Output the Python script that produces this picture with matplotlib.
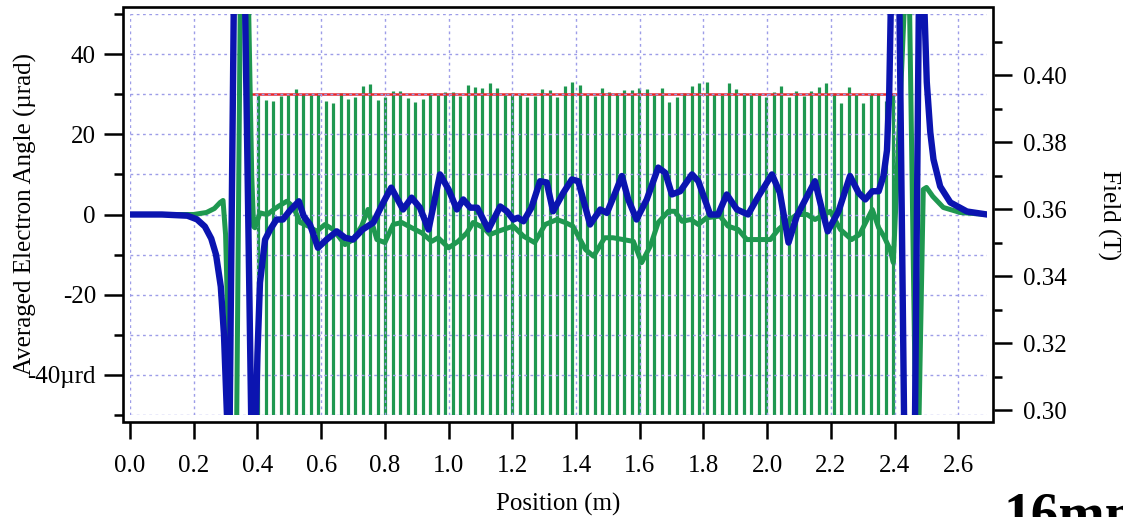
import numpy as np
import matplotlib
matplotlib.use('Agg')
import matplotlib.pyplot as plt
from matplotlib.patches import Rectangle
from matplotlib.ticker import FixedLocator

plt.rcParams['font.family'] = ['Liberation Serif', 'DejaVu Serif']

# ---- data ----
# averaged electron angle, blue trace (µrad); values beyond +-50 run off the plot
blue_x = [0.00, 0.10, 0.18, 0.21, 0.235, 0.255, 0.27, 0.285, 0.295, 0.302,
          0.308, 0.312, 0.328, 0.358, 0.384, 0.392, 0.40, 0.408, 0.424, 0.44,
          0.46, 0.48, 0.50, 0.53, 0.545, 0.565, 0.59, 0.617, 0.649, 0.675,
          0.70, 0.73, 0.764, 0.795, 0.82, 0.857, 0.884, 0.91, 0.937, 0.973,
          1.00, 1.026, 1.046, 1.068, 1.09, 1.125, 1.162, 1.183, 1.203, 1.218,
          1.235, 1.26, 1.287, 1.308, 1.328, 1.36, 1.387, 1.407, 1.444, 1.476,
          1.497, 1.523, 1.544, 1.564, 1.59, 1.622, 1.658, 1.68, 1.701, 1.727,
          1.764, 1.784, 1.821, 1.846, 1.873, 1.905, 1.94, 1.973, 2.015, 2.04,
          2.067, 2.093, 2.12, 2.15, 2.172, 2.19, 2.224, 2.26, 2.287, 2.308,
          2.33, 2.35, 2.365, 2.376, 2.383, 2.39, 2.414, 2.431, 2.463, 2.477,
          2.49, 2.501, 2.512, 2.522, 2.543, 2.575, 2.627, 2.69]
blue_y = [0, 0, -0.3, -1.2, -3, -6, -10, -18, -30, -45,
          -58, -58, 70, 70, -70, -62, -35, -17, -6.25, -3.75,
          -1.25, -1.25, 0.8, 3.3, -0.4, -2.5, -8.3, -6.25, -4.2, -5.8,
          -6.25, -3.75, -2, 3, 6.7, 1.25, 4.2, 1.7, -3.75, 10,
          6.25, 1.25, 3.75, 1.7, 1.7, -3.75, 2, 0.8, -1.25, -0.8,
          -1.7, 1.7, 8.3, 8, 0.8, 5.4, 8.75, 8.3, -2.5, 1.25,
          0.4, 5.4, 9.6, 3.75, -1.25, 3.75, 11.7, 10.4, 5, 5.8,
          10, 8.3, 0, 0, 5, 1.25, 0, 4.6, 10, 5.4,
          -7, -0.4, 3.75, 8.3, 1.25, -4.2, 0.8, 9.6, 5.4, 3.75,
          5.8, 5.8, 9.6, 16, 30, 60, 60, -60, -60, 60,
          60, 33, 20.5, 13.75, 7, 3, 0.75, 0]

# averaged electron angle, green trace (µrad)
green_x = [0.00, 0.15, 0.20, 0.24, 0.265, 0.283, 0.292, 0.300, 0.310, 0.316,
           0.334, 0.348, 0.368, 0.382, 0.388, 0.392, 0.408, 0.430, 0.465,
           0.492, 0.512, 0.534, 0.560, 0.586, 0.612, 0.638, 0.675, 0.700, 0.727,
           0.747, 0.775, 0.800, 0.826, 0.853, 0.884, 0.916, 0.947, 0.967, 1.000,
           1.030, 1.057, 1.077, 1.110, 1.130, 1.155, 1.203, 1.235, 1.270, 1.303,
           1.340, 1.366, 1.390, 1.430, 1.455, 1.490, 1.516, 1.548, 1.580, 1.606,
           1.633, 1.658, 1.690, 1.710, 1.733, 1.760, 1.784, 1.810, 1.852, 1.877,
           1.909, 1.936, 1.968, 2.010, 2.035, 2.060, 2.093, 2.125, 2.150, 2.170,
           2.198, 2.230, 2.265, 2.290, 2.330, 2.350, 2.366, 2.386, 2.396, 2.436,
           2.445, 2.468, 2.474, 2.490, 2.500, 2.520, 2.553, 2.606, 2.690]
green_y = [0, 0, 0, 0.5, 1.5, 3, 3.5, -5, -35, -60,
           -60, 70, 70, 10, -3, -3.3, 0.4, 0, 2,
           3.3, 2, -2, -2.9, -4.2, -2.5, -3.75, -7.5, -6.25, -2.9,
           1.25, -6.25, -7, -2.5, -2, -3.3, -4.6, -6.7, -5.8, -8.3,
           -6.7, -4.6, -2, -3.3, -5, -4.2, -2.9, -5.4, -7, -2.5,
           -1.25, -2, -2.9, -8.75, -10.4, -5.8, -5.8, -6.25, -6.7, -12,
           -7.9, -2, 0.8, 0.8, -1.7, -1.25, -2.5, -0.8, -0.4, -2.9,
           -3.75, -6.25, -6.25, -6.25, -3.75, -2, 0, 0, -1.25, -0.4,
           0.8, -3.75, -6.25, -5, 1.25, -3.3, -5.4, -8.75, -12, 62,
           62, -62, -62, 6.25, 6.75, 4.5, 1.75, 0.5, 0]

# peak field of each pole (T)
pole_field = [0.3940, 0.3925, 0.3923, 0.3936, 0.3940, 0.3958, 0.3943, 0.3940, 0.3947, 0.3923,
              0.3917, 0.3947, 0.3928, 0.3934, 0.3967, 0.3973, 0.3925, 0.3934, 0.3952, 0.3953,
              0.3930, 0.3920, 0.3928, 0.3947, 0.3940, 0.3950, 0.3950, 0.3938, 0.3970, 0.3963,
              0.3960, 0.3975, 0.3960, 0.3940, 0.3947, 0.3940, 0.3935, 0.3936, 0.3957, 0.3955,
              0.3935, 0.3967, 0.3980, 0.3970, 0.3943, 0.3936, 0.3962, 0.3950, 0.3945, 0.3955,
              0.3955, 0.3960, 0.3957, 0.3940, 0.3960, 0.3920, 0.3934, 0.3945, 0.3967, 0.3976,
              0.3980, 0.3943, 0.3940, 0.3975, 0.3957, 0.3947, 0.3940, 0.3940, 0.3935, 0.3950,
              0.3967, 0.3935, 0.3952, 0.3936, 0.3952, 0.3965, 0.3976, 0.3945, 0.3917, 0.3965,
              0.3943, 0.3915, 0.3943, 0.3943, 0.3923, 0.3940]
pole_first, pole_last = 0.403, 2.396

# nominal field level (red line)
nominal_field = 0.3943
nominal_range = (0.377, 2.407)

x_ticks = [0.0, 0.2, 0.4, 0.6, 0.8, 1.0, 1.2, 1.4, 1.6, 1.8, 2.0, 2.2, 2.4, 2.6]
angle_ticks = [-40, -20, 0, 20, 40]
angle_labels = ['-40µrd', '-20', '0', '20', '40']
angle_minor = [-50, -30, -10, 10, 30, 50]
field_ticks = [0.30, 0.32, 0.34, 0.36, 0.38, 0.40]
field_minor = [0.31, 0.33, 0.35, 0.37, 0.39, 0.41]

BLUE = '#0b14b0'
GREEN = '#1f9850'
RED = '#e8252c'
GRID = '#9d9de8'
W, H = 1123, 517
OFFSET = 7 * 72 / 100  # frame sits 7 px outside the plot area

# ---- figure ----
fig = plt.figure(figsize=(W / 100, H / 100), dpi=100)
ax = fig.add_axes([130 / W, 1 - 415 / H, 857 / W, 401 / H])
ax2 = ax.twinx()
ax.set_zorder(ax2.get_zorder() + 1)
ax.patch.set_visible(False)

pole_x = np.linspace(pole_first, pole_last, len(pole_field))
ax2.vlines(pole_x, 0.28, pole_field, color=GREEN, lw=2.3)
ax2.hlines(nominal_field, *nominal_range, color=RED, lw=1.8)

ax.plot(green_x, green_y, color=GREEN, lw=3.6, solid_joinstyle='round', solid_capstyle='round')
ax.plot(blue_x, blue_y, color=BLUE, lw=4.6, solid_joinstyle='round', solid_capstyle='round')

ax.set_xlim(0, 2.69)
ax.set_ylim(-50, 50)
ax2.set_ylim(0.29851, 0.41821)

ax.set_xticks(x_ticks)
ax.set_xticklabels([f'{v:.1f}' for v in x_ticks])
ax.set_yticks(angle_ticks)
ax.set_yticklabels(angle_labels)
ax.yaxis.set_minor_locator(FixedLocator(angle_minor))
ax2.set_yticks(field_ticks)
ax2.set_yticklabels([f'{v:.2f}' for v in field_ticks])
ax2.yaxis.set_minor_locator(FixedLocator(field_minor))

ax.xaxis.grid(True, which='major', color=GRID, ls=(0, (2, 2.5)), lw=1)
ax.yaxis.grid(True, which='both', color=GRID, ls=(0, (2, 2.5)), lw=1)

ax.tick_params(axis='x', which='major', length=12.5, width=1.8, pad=11, labelsize=18)
ax.tick_params(axis='y', which='major', length=13.5, width=1.8, pad=6, labelsize=18)
ax.tick_params(axis='y', which='minor', length=6.5, width=1.8)
ax2.tick_params(axis='y', which='major', length=13, width=1.8, pad=8, labelsize=18)
ax2.tick_params(axis='y', which='minor', length=6, width=1.8)

# Igor-style frame: spines pushed outward, drawn as one closed box
for a in (ax, ax2):
    for s in a.spines.values():
        s.set_position(('outward', OFFSET))
        s.set_visible(False)
fig.add_artist(Rectangle((123 / W, 1 - 422 / H), 870 / W, 415 / H, transform=fig.transFigure,
                         fill=False, lw=1.9, color='black', zorder=10))

fig.text(25 / W, 1 - 214 / H, 'Averaged Electron Angle (µrad)', rotation=90,
         ha='center', va='center', fontsize=18)
fig.text(1109 / W, 1 - 215 / H, 'Field (T)', rotation=-90,
         ha='center', va='center', fontsize=18)
fig.text(558 / W, 1 - 504 / H, 'Position (m)', ha='center', va='center', fontsize=18)
fig.text(1003 / W, 1 - 531 / H, '16mm', ha='left', va='baseline',
         fontsize=40, fontweight='bold')

fig.savefig('out.png', dpi=100)
